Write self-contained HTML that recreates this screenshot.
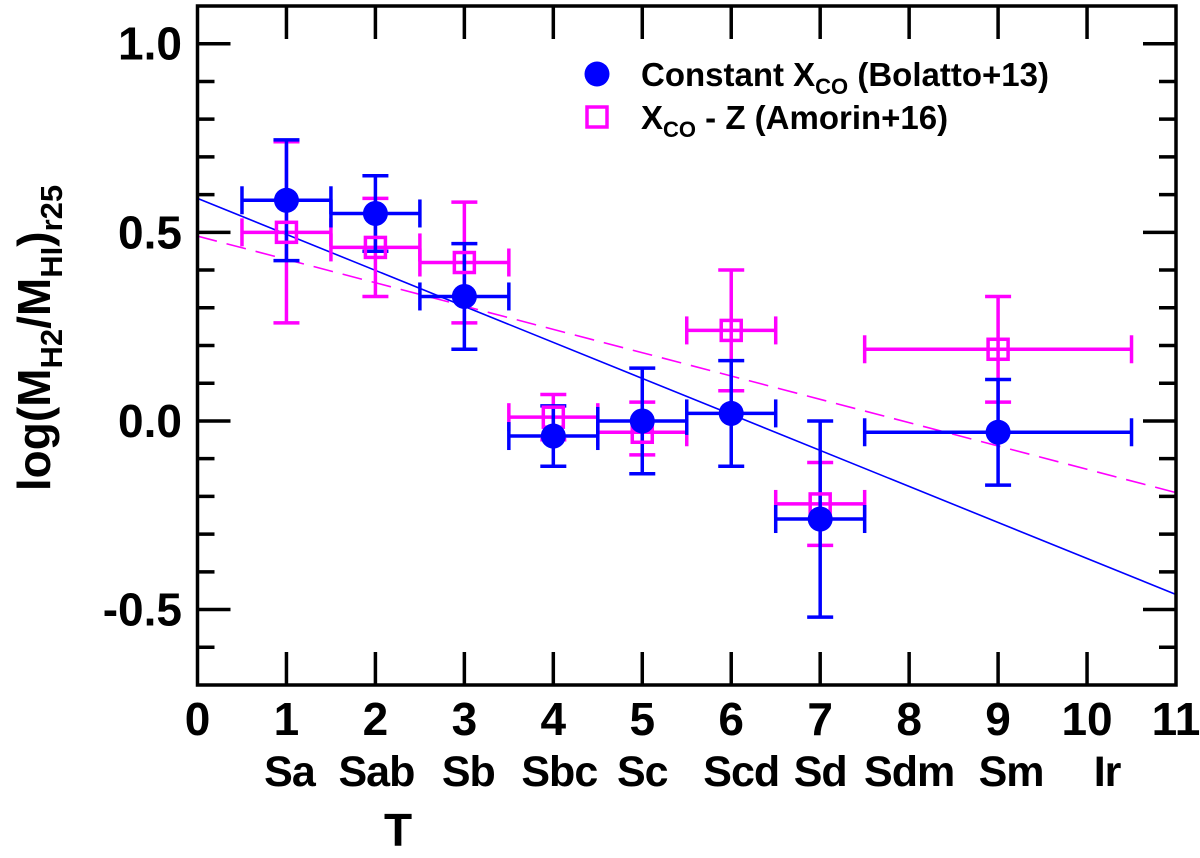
<!DOCTYPE html>
<html><head><meta charset="utf-8"><style>
body{margin:0;background:#fff}
svg{display:block;font-family:"Liberation Sans",Arial,sans-serif;font-weight:bold}
</style></head><body>
<svg id="chart" width="1200" height="858">
<g id="grid"></g>
</svg>
<script>
const categories=[1,2,3,4,5,6,7,9];
const blueY=[0.585,0.55,0.33,-0.04,0.0,0.02,-0.26,-0.03];
const blueHi=[0.745,0.65,0.47,0.04,0.14,0.16,0.0,0.11];
const blueLo=[0.425,0.45,0.19,-0.12,-0.14,-0.12,-0.52,-0.17];
const magY=[0.50,0.46,0.42,0.01,-0.03,0.24,-0.22,0.19];
const magHi=[0.74,0.59,0.58,0.07,0.05,0.40,-0.11,0.33];
const magLo=[0.26,0.33,0.26,-0.05,-0.09,0.08,-0.33,0.05];
const xErr=[0.5,0.5,0.5,0.5,0.5,0.5,0.5,1.5];
const blueFit=[0.59,-0.46];
const magFit=[0.49,-0.19];
const xTicks=[0,1,2,3,4,5,6,7,8,9,10,11];
const typeLabels=["Sa","Sab","Sb","Sbc","Sc","Scd","Sd","Sdm","Sm","Ir"];
const yTicks=[1.0,0.5,0.0,-0.5];
const yTickLabels=["1.0","0.5","0.0","-0.5"];

const X0=197.5,X1=1176,Y0=685,Y1=6,xmin=0,xmax=11,ymin=-0.7,ymax=1.1;
const sx=v=>X0+(v-xmin)/(xmax-xmin)*(X1-X0);
const sy=v=>Y0-(v-ymin)/(ymax-ymin)*(Y0-Y1);
const svg=document.getElementById('chart');
const NS='http://www.w3.org/2000/svg';
function mk(tag,attrs,parent){const e=document.createElementNS(NS,tag);for(const k in attrs)e.setAttribute(k,attrs[k]);(parent||svg).appendChild(e);return e;}

let l=mk('line',{x1:sx(0),y1:sy(blueFit[0]),x2:sx(11),y2:sy(blueFit[1]),stroke:'#0000ff','stroke-width':1.6});


l=mk('line',{x1:sx(0),y1:sy(magFit[0]),x2:sx(11),y2:sy(magFit[1]),stroke:'#ff00ff','stroke-width':1.6,'stroke-dasharray':'20,10'});



function errbars(ys,hi,lo,col,name){
  categories.forEach((c,i)=>{
    const g=mk('g',{stroke:col,'stroke-width':3.5,fill:'none'});
    
    
    const x=sx(c),y=sy(ys[i]),xa=sx(c-xErr[i]),xb=sx(c+xErr[i]);
    mk('line',{x1:xa,y1:y,x2:xb,y2:y},g);
    mk('line',{x1:xa,y1:y-14,x2:xa,y2:y+14},g);
    mk('line',{x1:xb,y1:y-14,x2:xb,y2:y+14},g);
    mk('line',{x1:x,y1:sy(hi[i]),x2:x,y2:sy(lo[i])},g);
    mk('line',{x1:x-13,y1:sy(hi[i]),x2:x+13,y2:sy(hi[i])},g);
    mk('line',{x1:x-13,y1:sy(lo[i]),x2:x+13,y2:sy(lo[i])},g);
  });
}
errbars(magY,magHi,magLo,'#ff00ff','magenta');
errbars(blueY,blueHi,blueLo,'#0000ff','blue');
categories.forEach((c,i)=>{
  const r=mk('rect',{x:sx(c)-10,y:sy(magY[i])-10,width:20,height:20,fill:'none',stroke:'#ff00ff','stroke-width':3.5});
  
  
});
categories.forEach((c,i)=>{
  const p=mk('circle',{cx:sx(c),cy:sy(blueY[i]),r:12.5,fill:'#0000ff'});
  
  
});

const ax=mk('g',{stroke:'#000','stroke-width':3.5,fill:'none'});


mk('rect',{x:X0,y:Y1,width:X1-X0,height:Y0-Y1},ax);
xTicks.forEach(t=>{if(t==0||t==11)return;const x=sx(t);
  mk('line',{x1:x,y1:Y0,x2:x,y2:Y0-33},ax);mk('line',{x1:x,y1:Y1,x2:x,y2:Y1+33},ax);});
for(let k=-6;k<=10;k++){const v=k/10,y=sy(v);const len=(k%5==0)?33:17;
  mk('line',{x1:X0,y1:y,x2:X0+len,y2:y},ax);mk('line',{x1:X1,y1:y,x2:X1-len,y2:y},ax);}
xTicks.forEach(t=>{const e=mk('text',{x:sx(t),y:735,'text-anchor':'middle','font-size':46});e.textContent=t;
  
  });
const typeShift=[3,1,4,6,0,10,0,0,13,20];
typeLabels.forEach((s,i)=>{const e=mk('text',{x:sx(i+1)+typeShift[i],y:786,'text-anchor':'middle','font-size':43,'letter-spacing':-1});e.textContent=s;
  
  });
yTicks.forEach((v,i)=>{const e=mk('text',{x:182,y:sy(v)+16,'text-anchor':'end','font-size':46});e.textContent=yTickLabels[i];
  
  });
</script>
<svg style="position:absolute;left:0;top:0" width="1200" height="858">
<text x="398" y="846" text-anchor="middle" font-size="46" font-family="Liberation Sans" font-weight="bold">T</text>
<text transform="translate(50,338) rotate(-90)" text-anchor="middle" font-size="46" font-family="Liberation Sans" font-weight="bold">log(M<tspan font-size="31" dy="12">H2</tspan><tspan dy="-12">/M</tspan><tspan font-size="31" dy="12">HI</tspan><tspan dy="-12">)</tspan><tspan font-size="31" dy="12">r25</tspan></text>
<g font-family="Liberation Sans" font-weight="bold" font-size="33">
<circle cx="597" cy="74" r="12.5" fill="#0000ff"/>
<text x="641" y="86">Constant X<tspan font-size="22" dy="8">CO</tspan><tspan dy="-8"> (Bolatto+13)</tspan></text>
<rect x="587" y="107" width="20" height="20" fill="none" stroke="#ff00ff" stroke-width="3.5"/>
<text x="641" y="129">X<tspan font-size="22" dy="8">CO</tspan><tspan dy="-8"> - Z (Amorin+16)</tspan></text>
</g>
</svg>
</body></html>
